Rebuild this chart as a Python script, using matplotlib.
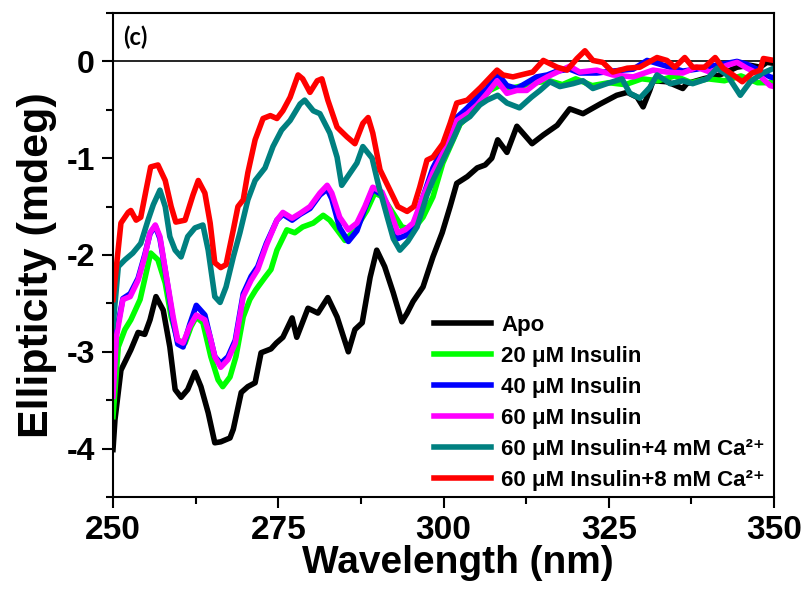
import numpy as np
import matplotlib
matplotlib.use('Agg')
import matplotlib.pyplot as plt
from matplotlib.ticker import MultipleLocator

plt.rcParams['font.family'] = ['Liberation Sans', 'DejaVu Sans']
plt.rcParams['font.weight'] = 'bold'
plt.rcParams['axes.unicode_minus'] = False

# ---- data ----
apo_x = [250, 250.3, 251.2, 252.7, 253.8, 254.8, 255.6, 256.5, 257.6, 258.6, 259.4, 260.3, 261.3,
         262.4, 263.3, 264.4, 265.4, 266.3, 267.7, 268.2, 269.4, 270.4, 271.5, 272.4, 273.9, 274.7,
         275.7, 277.1, 277.8, 279.5, 281.0, 282.5, 283.9, 285.6, 286.6, 287.7, 288.9, 289.9, 291.1,
         292.4, 293.7, 294.5, 295.4, 296.9, 298.4, 299.8, 301.0, 302.0, 303.6, 305.1, 306.3, 307.3,
         308.2, 309.6, 311.1, 312.0, 313.4, 315.1, 317.2, 319.1, 321.1, 323.7, 326.2, 327.8, 329.3,
         330.2, 331.2, 331.7, 333.8, 336.2, 336.8, 339.3, 341.8, 344.4, 346.4, 347.9, 348.9, 350]
apo_y = [-4.01, -3.70, -3.19, -2.98, -2.80, -2.82, -2.67, -2.43, -2.57, -2.95, -3.39, -3.47, -3.39,
         -3.21, -3.36, -3.63, -3.94, -3.93, -3.89, -3.80, -3.42, -3.36, -3.32, -3.01, -2.97, -2.91,
         -2.85, -2.65, -2.85, -2.55, -2.60, -2.44, -2.64, -3.00, -2.77, -2.70, -2.23, -1.95, -2.12,
         -2.39, -2.69, -2.60, -2.48, -2.33, -2.02, -1.77, -1.50, -1.26, -1.19, -1.10, -1.07, -1.00,
         -0.81, -0.94, -0.67, -0.74, -0.85, -0.76, -0.66, -0.49, -0.54, -0.44, -0.35, -0.32, -0.37,
         -0.47, -0.30, -0.20, -0.21, -0.28, -0.23, -0.18, -0.14, -0.06, -0.04, -0.06, -0.01, -0.02]

ins20_x = [250, 250.8, 251.8, 252.7, 254.1, 255.0, 255.7, 256.8, 257.9, 258.8, 259.8, 260.9, 261.8,
           262.6, 263.6, 264.8, 265.9, 266.6, 267.7, 268.6, 269.7, 270.7, 271.6, 273.0, 273.9, 274.8,
           276.3, 277.5, 278.7, 280.3, 281.8, 282.8, 283.9, 285.1, 286.6, 288.4, 289.6, 290.8, 292.4,
           293.7, 295.4, 296.9, 298.4, 299.9, 301.4, 302.5, 304.0, 305.5, 307.0, 308.5, 310.0, 312.0,
           314.0, 316.0, 318.0, 320.0, 322.5, 325.0, 327.5, 330.0, 332.5, 335.0, 337.5, 340.0, 342.5,
           345.0, 347.5, 350]
ins20_y = [-3.67, -2.95, -2.77, -2.67, -2.46, -2.19, -1.98, -2.05, -2.29, -2.64, -2.88, -2.91, -2.74,
           -2.64, -2.70, -3.05, -3.29, -3.36, -3.26, -3.05, -2.64, -2.46, -2.36, -2.23, -2.15, -1.95,
           -1.74, -1.77, -1.71, -1.67, -1.59, -1.64, -1.74, -1.85, -1.74, -1.54, -1.36, -1.40, -1.57,
           -1.71, -1.74, -1.61, -1.40, -1.05, -0.82, -0.65, -0.55, -0.42, -0.30, -0.25, -0.28, -0.25,
           -0.22, -0.20, -0.24, -0.18, -0.25, -0.22, -0.24, -0.18, -0.20, -0.15, -0.22, -0.18, -0.20,
           -0.15, -0.22, -0.22]

ins40_x = [250, 250.5, 251.5, 252.6, 253.8, 254.8, 255.6, 256.4, 257.1, 258.0, 259.1, 259.8, 260.6,
           261.6, 262.6, 263.9, 264.7, 265.4, 266.3, 267.4, 268.5, 269.7, 270.9, 271.9, 273.2, 274.8,
           275.7, 277.1, 278.3, 279.8, 281.3, 282.4, 283.1, 284.3, 285.6, 286.9, 288.1, 289.3, 290.7,
           291.9, 293.1, 294.2, 295.4, 296.9, 298.4, 299.9, 301.0, 302.0, 303.6, 305.1, 306.6, 308.1,
           309.6, 311.1, 312.6, 314.1, 315.7, 317.2, 319.1, 320.6, 323.2, 325.6, 328.7, 330.8, 333.8,
           336.2, 338.3, 340.3, 342.9, 344.4, 345.9, 347.4, 349.4, 350]
ins40_y = [-3.35, -2.80, -2.45, -2.40, -2.24, -2.00, -1.78, -1.70, -1.83, -2.20, -2.68, -2.92, -2.95,
           -2.72, -2.52, -2.62, -2.85, -3.05, -3.12, -3.05, -2.88, -2.40, -2.22, -2.12, -1.88, -1.64,
           -1.58, -1.64, -1.58, -1.52, -1.38, -1.32, -1.42, -1.72, -1.86, -1.75, -1.52, -1.32, -1.38,
           -1.60, -1.83, -1.80, -1.70, -1.40, -1.10, -0.90, -0.74, -0.58, -0.48, -0.37, -0.28, -0.12,
           -0.25, -0.28, -0.22, -0.16, -0.14, -0.10, -0.08, -0.12, -0.12, -0.10, -0.08, 0.01, -0.05,
           -0.10, -0.08, -0.05, -0.02, 0.00, -0.03, -0.08, -0.16, -0.17]

ins60_x = [250, 250.5, 251.5, 252.6, 253.8, 254.8, 255.6, 256.4, 257.1, 258.0, 259.1, 259.8, 260.6,
           261.6, 262.6, 263.9, 264.7, 265.4, 266.3, 267.4, 268.5, 269.7, 270.9, 271.9, 273.2, 274.8,
           275.7, 277.1, 278.3, 279.8, 281.3, 282.4, 283.1, 284.3, 285.6, 286.9, 288.1, 289.3, 290.7,
           291.9, 293.1, 294.2, 295.4, 296.9, 298.4, 299.9, 301.0, 302.0, 303.6, 305.1, 306.6, 308.1,
           309.6, 311.1, 312.6, 314.1, 315.7, 317.2, 319.1, 320.6, 323.2, 325.6, 328.7, 331.7, 333.8,
           336.2, 338.3, 340.3, 342.9, 344.4, 345.9, 347.4, 349.4, 350]
ins60_y = [-3.46, -2.85, -2.46, -2.43, -2.26, -2.02, -1.77, -1.69, -1.81, -2.19, -2.64, -2.88, -2.91,
           -2.74, -2.62, -2.67, -2.85, -3.05, -3.16, -3.08, -2.91, -2.43, -2.26, -2.15, -1.90, -1.64,
           -1.56, -1.62, -1.57, -1.50, -1.36, -1.28, -1.36, -1.61, -1.74, -1.67, -1.50, -1.30, -1.35,
           -1.54, -1.77, -1.74, -1.67, -1.40, -1.15, -0.95, -0.80, -0.61, -0.54, -0.45, -0.33, -0.20,
           -0.33, -0.30, -0.30, -0.22, -0.16, -0.11, -0.05, -0.11, -0.09, -0.14, -0.16, -0.09, -0.11,
           -0.12, -0.06, -0.11, -0.04, -0.01, -0.07, -0.12, -0.25, -0.26]

ca4_x = [250, 250.8, 251.8, 253.0, 254.2, 255.3, 256.1, 257.1, 257.9, 258.6, 259.4, 260.3, 261.3,
         262.4, 263.6, 264.4, 265.4, 266.2, 267.1, 268.2, 269.2, 270.4, 271.5, 273.0, 274.2, 275.5,
         276.8, 278.3, 279.0, 280.3, 281.3, 282.8, 283.9, 284.6, 285.6, 286.9, 287.8, 289.2, 290.1,
         291.5, 292.4, 293.4, 294.6, 296.0, 297.5, 298.4, 299.9, 301.4, 302.5, 304.0, 305.5, 306.6,
         308.2, 309.6, 311.5, 313.3, 314.6, 316.1, 317.6, 319.6, 321.1, 322.6, 324.7, 327.0, 328.2,
         329.7, 331.2, 332.3, 334.3, 336.2, 337.7, 339.9, 341.4, 342.9, 344.9, 346.4, 348.3, 350]
ca4_y = [-2.74, -2.12, -2.05, -1.98, -1.88, -1.64, -1.48, -1.33, -1.50, -1.81, -1.95, -2.02, -1.81,
         -1.72, -1.69, -1.95, -2.43, -2.49, -2.33, -2.02, -1.77, -1.43, -1.23, -1.10, -0.88, -0.71,
         -0.61, -0.44, -0.40, -0.51, -0.54, -0.74, -0.99, -1.28, -1.18, -1.05, -0.88, -1.00, -1.26,
         -1.61, -1.83, -1.95, -1.86, -1.71, -1.38, -1.23, -1.02, -0.81, -0.64, -0.57, -0.45, -0.40,
         -0.35, -0.43, -0.48, -0.37, -0.30, -0.21, -0.26, -0.23, -0.20, -0.28, -0.23, -0.18, -0.33,
         -0.38, -0.27, -0.14, -0.23, -0.20, -0.23, -0.18, -0.07, -0.14, -0.35, -0.21, -0.12, -0.07]

ca8_x = [250, 251.2, 252.3, 252.7, 253.5, 254.2, 255.0, 255.7, 256.8, 257.9, 258.8, 259.5, 260.9,
         262.1, 262.9, 263.9, 264.7, 265.4, 266.3, 267.1, 268.2, 268.9, 269.7, 270.4, 271.5, 272.7,
         273.8, 274.8, 275.7, 276.8, 278.0, 278.7, 279.8, 280.9, 281.6, 282.5, 283.9, 285.4, 286.6,
         287.8, 288.6, 289.3, 290.4, 291.9, 293.1, 294.5, 295.5, 296.4, 297.5, 298.4, 299.9, 301.0,
         302.0, 303.6, 305.6, 308.1, 309.0, 310.5, 313.5, 315.1, 317.2, 318.7, 320.2, 321.4, 322.6,
         324.1, 325.6, 327.8, 329.7, 332.3, 333.8, 335.0, 336.5, 337.7, 339.5, 341.1, 342.3, 343.8,
         345.2, 346.7, 347.9, 348.4, 350]
ca8_y = [-2.46, -1.67, -1.56, -1.54, -1.64, -1.61, -1.33, -1.09, -1.07, -1.23, -1.50, -1.66, -1.64,
         -1.38, -1.23, -1.36, -1.67, -2.08, -2.13, -2.10, -1.74, -1.50, -1.43, -1.15, -0.81, -0.59,
         -0.56, -0.59, -0.51, -0.37, -0.14, -0.18, -0.32, -0.20, -0.18, -0.40, -0.68, -0.78, -0.85,
         -0.64, -0.58, -0.74, -1.12, -1.33, -1.50, -1.55, -1.50, -1.30, -1.02, -0.99, -0.85, -0.64,
         -0.43, -0.40, -0.27, -0.09, -0.14, -0.16, -0.11, 0.01, -0.06, -0.09, 0.03, 0.11, 0.01,
         -0.01, -0.11, -0.07, -0.06, 0.04, 0.01, -0.06, 0.04, -0.06, -0.06, 0.04, -0.07, -0.14,
         -0.21, -0.12, -0.09, 0.03, 0.01]

labels = ['Apo', '20 μM Insulin', '40 μM Insulin', '60 μM Insulin',
          '60 μM Insulin+4 mM Ca²⁺', '60 μM Insulin+8 mM Ca²⁺']
colors = ['#000000', '#00ff00', '#0000ff', '#ff00ff', '#008080', '#ff0000']
series = [(apo_x, apo_y), (ins20_x, ins20_y), (ins40_x, ins40_y),
          (ins60_x, ins60_y), (ca4_x, ca4_y), (ca8_x, ca8_y)]

fig = plt.figure(figsize=(8.08, 5.89), dpi=100)
ax = fig.add_axes([113/808, 1-497/589, 661/808, 484/589])

ax.axhline(0, color='black', lw=1.2, zorder=1)
for (x, y), c, lab in zip(series, colors, labels):
    ax.plot(x, y, color=c, lw=4, label=lab, zorder=2, solid_joinstyle='round')

ax.set_xlim(250, 350)
ax.set_ylim(-4.5, 0.5)
ax.xaxis.set_major_locator(MultipleLocator(25))
ax.xaxis.set_minor_locator(MultipleLocator(12.5))
ax.yaxis.set_major_locator(MultipleLocator(1))
ax.yaxis.set_minor_locator(MultipleLocator(0.5))
ax.tick_params(which='both', direction='out', width=1.5, top=False, right=False)
ax.tick_params(which='major', length=8)
ax.tick_params(which='minor', length=5)
ax.tick_params(axis='x', labelsize=24, pad=5)
ax.tick_params(axis='y', labelsize=23, pad=5)
for s in ax.spines.values():
    s.set_linewidth(1.5)

ax.set_xlabel('Wavelength (nm)', fontsize=28, fontweight='bold')
ax.xaxis.set_label_coords(0.522, -0.1)
ax.set_ylabel('Ellipticity (mdeg)', fontsize=31, fontweight='bold')
ax.yaxis.set_label_coords(-0.085, 0.479)

ax.text(0.015, 0.95, '(c)', transform=ax.transAxes, fontsize=17, fontweight='bold',
        family=['Lato', 'DejaVu Sans'], va='center', ha='left')

leg = ax.legend(loc='lower right', bbox_to_anchor=(1.01, -0.02), frameon=False, fontsize=16,
                handlelength=2.6, handletextpad=0.45, labelspacing=0.45, borderaxespad=0.3)
for line in leg.get_lines():
    line.set_linewidth(4)

fig.savefig('out.png', dpi=100)
